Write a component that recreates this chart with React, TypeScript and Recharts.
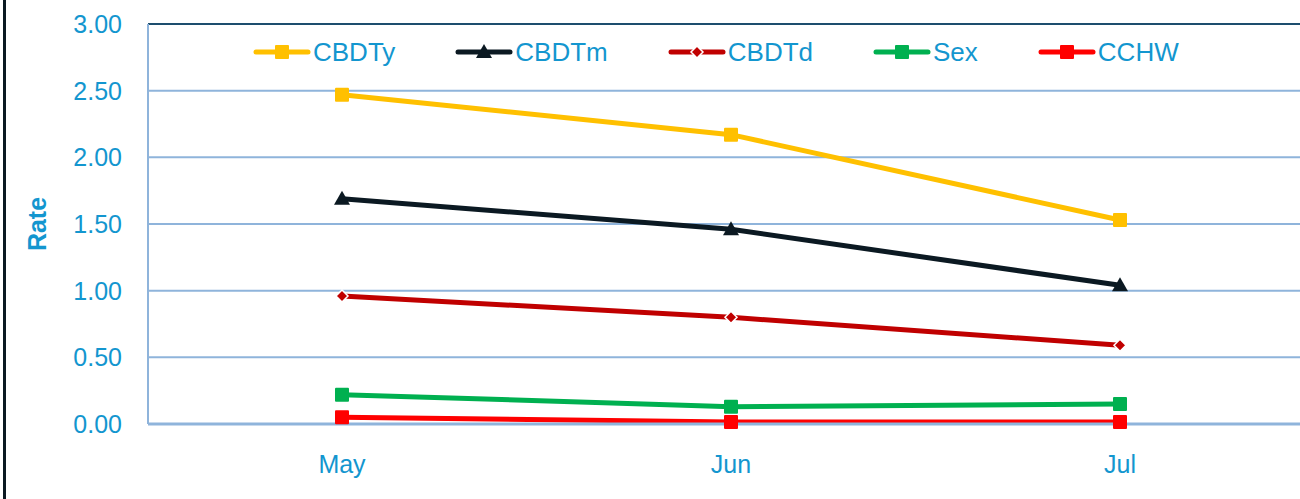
import React from "react";
import { LineChart, Line, XAxis, YAxis, CartesianGrid, ReferenceLine } from "recharts";

const months = ["May", "Jun", "Jul"];
const cbdty = [2.47, 2.17, 1.53];
const cbdtm = [1.69, 1.46, 1.04];
const cbdtd = [0.96, 0.8, 0.59];
const sex = [0.22, 0.13, 0.15];
const cchw = [0.05, 0.015, 0.015];
const yTicks = [0, 0.5, 1, 1.5, 2, 2.5, 3];

const data = months.map((m, i) => ({
  month: m,
  CBDTy: cbdty[i],
  CBDTm: cbdtm[i],
  CBDTd: cbdtd[i],
  Sex: sex[i],
  CCHW: cchw[i],
}));

type Shape = "square" | "triangle" | "diamond";
const series: { key: string; color: string; shape: Shape }[] = [
  { key: "CBDTy", color: "#ffc000", shape: "square" },
  { key: "CBDTm", color: "#0b1922", shape: "triangle" },
  { key: "CBDTd", color: "#c00000", shape: "diamond" },
  { key: "Sex", color: "#00b050", shape: "square" },
  { key: "CCHW", color: "#ff0000", shape: "square" },
];

const TEXT = "#1396cf";
const GRID = "#8fb4db";
const FONT = '"Liberation Sans", Arial, sans-serif';

function Marker({ cx, cy, color, shape }: { cx: number; cy: number; color: string; shape: Shape }) {
  if (shape === "square") {
    return <rect x={cx - 7} y={cy - 7} width={14} height={14} rx={1} fill={color} />;
  }
  if (shape === "triangle") {
    return <path d={`M${cx},${cy - 8} L${cx + 8},${cy + 6} L${cx - 8},${cy + 6} Z`} fill={color} />;
  }
  return (
    <path
      d={`M${cx},${cy - 6} L${cx + 6},${cy} L${cx},${cy + 6} L${cx - 6},${cy} Z`}
      fill={color}
      stroke="#ffffff"
      strokeWidth={1.5}
    />
  );
}

function LegendOverlay() {
  return (
    <div
      style={{
        position: "absolute",
        left: 253,
        top: 37,
        display: "flex",
        alignItems: "center",
        fontFamily: FONT,
        fontSize: 26,
        color: TEXT,
        lineHeight: "30px",
        whiteSpace: "nowrap",
      }}
    >
      {series.map((s, i) => (
        <div key={s.key} style={{ display: "flex", alignItems: "center", marginLeft: i === 0 ? 0 : 60 }}>
          <svg width={58} height={30} style={{ display: "block" }}>
            <line x1={3} y1={15} x2={55} y2={15} stroke={s.color} strokeWidth={5} strokeLinecap="round" />
            <Marker cx={29} cy={15} color={s.color} shape={s.shape} />
          </svg>
          <span style={{ marginLeft: 2 }}>{s.key}</span>
        </div>
      ))}
    </div>
  );
}

export default function App() {
  return (
    <div
      style={{
        position: "relative",
        width: 1300,
        height: 499,
        overflow: "hidden",
        background: "#ffffff",
      }}
    >
      <style>{`html,body{margin:0;padding:0;overflow:hidden;}`}</style>
      <div style={{ position: "absolute", left: 3, top: 0, width: 3, height: 499, background: "#0b1922" }} />
      <div style={{ position: "absolute", left: 0, top: 0 }}>
        <LineChart
          width={1300}
          height={499}
          data={data}
          margin={{ top: 24, right: 0, left: 0, bottom: 35 }}
        >
          <CartesianGrid horizontal vertical={false} stroke={GRID} strokeWidth={2} />
          <XAxis
            dataKey="month"
            padding={{ left: 194, right: 180 }}
            axisLine={{ stroke: GRID, strokeWidth: 3 }}
            tickLine={false}
            tickSize={0}
            tickMargin={31}
            height={40}
            tick={{ fill: TEXT, fontSize: 25, fontFamily: FONT }}
          />
          <YAxis
            domain={[0, 3]}
            ticks={yTicks}
            width={148}
            axisLine={{ stroke: GRID, strokeWidth: 2 }}
            tickLine={false}
            tickSize={0}
            tickMargin={26}
            tickFormatter={(v: number) => v.toFixed(2)}
            tick={{ fill: TEXT, fontSize: 25, fontFamily: FONT }}
            label={{
              content: (props: any) => {
                const vb = props.viewBox || { x: 0, y: 24, width: 148, height: 400 };
                const x = vb.x + 37;
                const y = vb.y + vb.height / 2;
                return (
                  <text
                    x={x}
                    y={y}
                    transform={`rotate(-90, ${x}, ${y})`}
                    textAnchor="middle"
                    dominantBaseline="central"
                    fill={TEXT}
                    fontSize={25}
                    fontWeight="bold"
                    fontFamily={FONT}
                  >
                    Rate
                  </text>
                );
              },
            }}
          />
          <ReferenceLine y={3} stroke="#1d4e6e" strokeWidth={2} />
          {series.map((s) => (
            <Line
              key={s.key}
              type="linear"
              dataKey={s.key}
              stroke={s.color}
              strokeWidth={5}
              isAnimationActive={false}
              activeDot={false}
              dot={(p: any) => (
                <Marker key={`${s.key}-${p.index}`} cx={p.cx} cy={p.cy} color={s.color} shape={s.shape} />
              )}
            />
          ))}
        </LineChart>
      </div>
      <LegendOverlay />
    </div>
  );
}
